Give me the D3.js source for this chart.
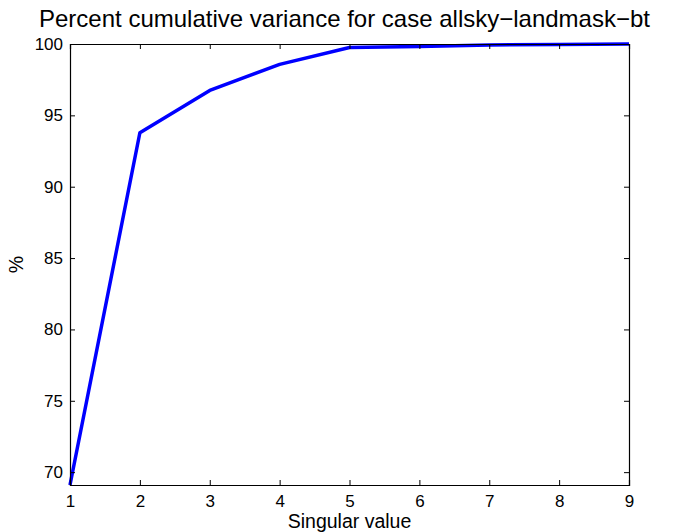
<!DOCTYPE html>
<head>
  <meta charset="utf-8">
  <script src="https://d3js.org/d3.v7.min.js"></script>
  <style>
    body { margin:0; background:#fff; }
    text { font-family: "Liberation Sans", Arial, sans-serif; fill:#000; }
  </style>
</head>
<body>
<div id=figure></div>
<script>
  // values
  var singular = [1, 2, 3, 4, 5, 6, 7, 8, 9];
  var pctCum = [69.1, 93.78, 96.75, 98.57, 99.75, 99.83, 99.93, 99.97, 100];
  var xTicks = [1, 2, 3, 4, 5, 6, 7, 8, 9];
  var yTicks = [70, 75, 80, 85, 90, 95, 100];

  var W = 673, H = 532;
  var margin = {top: 44, right: 44, bottom: 47, left: 70};
  var width = W - margin.left - margin.right;
  var height = H - margin.top - margin.bottom;

  var svg = d3.select("#figure").append("svg")
    .attr("width", W).attr("height", H);

  var g = svg.append("g")
    .attr("transform", "translate(" + margin.left + "," + margin.top + ")");

  var x = d3.scaleLinear().domain([1, 9]).range([0, width]);
  var y = d3.scaleLinear().domain([pctCum[0], 100]).range([height, 0]);

  var line = d3.line()
    .x(function(d, i) { return x(singular[i]); })
    .y(function(d) { return y(d); });

  g.append("path")
    .datum(pctCum)
    .attr("d", line)
    .attr("fill", "none")
    .attr("stroke", "#0000ff")
    .attr("stroke-width", 3.5)
    .attr("stroke-linejoin", "round");

  // ticks inward, MATLAB style box
  var xAxis = d3.axisBottom(x).tickValues(xTicks).tickSize(-5).tickPadding(10).tickFormat(d3.format("d"));
  var yAxis = d3.axisLeft(y).tickValues(yTicks).tickSize(-5).tickPadding(7);
  var xTop = d3.axisTop(x).tickValues(xTicks).tickSize(-5).tickFormat("");
  var yRight = d3.axisRight(y).tickValues(yTicks).tickSize(-5).tickFormat("");

  function styleAxis(sel) {
    sel.selectAll("path").attr("stroke", "#000").attr("stroke-width", 1.2);
    sel.selectAll("line").attr("stroke", "#000").attr("stroke-width", 1);
    sel.selectAll("text").style("font-size", "17px").attr("fill", "#000");
    sel.attr("font-family", null);
  }

  g.append("g").attr("transform", "translate(0," + height + ")").call(xAxis).call(styleAxis);
  g.append("g").call(yAxis).call(styleAxis);
  g.append("g").call(xTop).call(styleAxis);
  g.append("g").attr("transform", "translate(" + width + ",0)").call(yRight).call(styleAxis);

  svg.append("text")
    .attr("x", 344.5).attr("y", 27)
    .attr("text-anchor", "middle")
    .style("font-size", "24px")
    .text("Percent cumulative variance for case allsky\u2212landmask\u2212bt");

  svg.append("text")
    .attr("x", margin.left + width / 2).attr("y", 528)
    .attr("text-anchor", "middle")
    .style("font-size", "19.5px")
    .text("Singular value");

  svg.append("text")
    .attr("transform", "translate(23," + (margin.top + height / 2) + ") rotate(-90)")
    .attr("text-anchor", "middle")
    .style("font-size", "19.5px")
    .text("%");
</script>
</body>
